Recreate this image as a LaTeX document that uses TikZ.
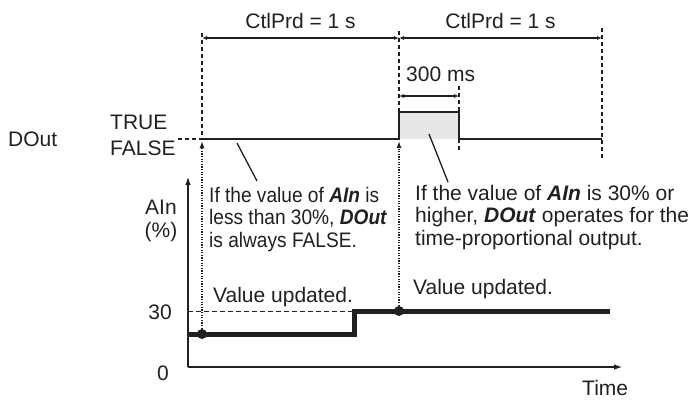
\documentclass[tikz,border=0pt]{standalone}
\usepackage{fontspec}
\setmainfont{Liberation Sans}
\newfontfamily\narrowsans[FakeStretch=0.91]{Liberation Sans}
\usetikzlibrary{arrows.meta}
\definecolor{ink}{RGB}{35,31,32}
\definecolor{pulse}{RGB}{230,231,232}

\begin{document}
\begin{tikzpicture}[x=1pt, y=-1pt,
  txt/.style={inner sep=0pt, font=\fontsize{21}{22.5}\selectfont, text=ink},
  note/.style={txt, align=left, anchor=north west},
  guide/.style={ink, line width=1.4pt, dash pattern=on 4pt off 3pt},
  sig/.style={ink, line width=1.5pt},
  dim/.style={{Latex[length=5pt,width=4pt]}-{Latex[length=5pt,width=4pt]}, ink, line width=1.4pt},
  probe/.style={-{Latex[length=7pt,width=5pt]}, ink, line width=1.3pt, dash pattern=on 1.3pt off 1.3pt},
  axis/.style={-{Latex[length=9pt,width=5.5pt]}, ink, line width=1.8pt},
  ain/.style={ink, line width=5pt},
  dot/.style={circle, fill=ink, inner sep=0pt, minimum size=10pt}]
\useasboundingbox (0,0) rectangle (693,399);

% period marks and guides
\coordinate (k0) at (202,38);
\coordinate (k1) at (399,38);
\coordinate (k2) at (602,38);
\coordinate (g0) at (202,33);
\coordinate (g1) at (399,31);
\coordinate (g2) at (602,28);
\coordinate (g2b) at (602,158);
\coordinate (g3) at (459,86);
\coordinate (g3b) at (459,152);
\coordinate (w1) at (399,96);
\coordinate (w2) at (459,96);

% DOut waveform
\coordinate (f0) at (202,139);
\coordinate (f1) at (399,139);
\coordinate (t1) at (399,112);
\coordinate (t2) at (459,112);
\coordinate (f3) at (459,139);
\coordinate (f2) at (602,139);

% AIn axes and signal
\coordinate (o) at (188,367);
\coordinate (ytop) at (188,176);
\coordinate (xend) at (623,367);
\coordinate (o30) at (188,311);
\coordinate (a0) at (188,334);
\coordinate (a1) at (354,334);
\coordinate (a2) at (354,311);
\coordinate (a3) at (610,311);

\fill[pulse] (t1) rectangle (f3);

\draw[guide] (g0) -- (f0);
\draw[guide] (g1) -- (t1);
\draw[guide] (g2) -- (g2b);
\draw[guide] (g3) -- (t2);
\draw[guide] (f3) -- (g3b);

\draw[dim] (k0) -- node[txt, above=8.5pt] {CtlPrd = 1 s} (k1);
\draw[dim] (k1) -- node[txt, above=8.5pt] {CtlPrd = 1 s} (k2);
\draw[dim] (w1) -- (w2);
\node[txt, anchor=base west] (ms) at (406,81.5) {300 ms};

\draw[sig] (f0) -- (f1) -- (t1) -- (t2) -- (f3) -- (f2);

\node[txt, anchor=base west] (dout) at (8,146.5) {DOut};
\node[txt, anchor=base west] (ltrue) at (110,129) {TRUE};
\node[txt, anchor=base west] (lfalse) at (110,155) {FALSE};
\draw[guide, line width=1.2pt] ([xshift=2pt]lfalse.east |- f0) -- (f0);

% callouts
\coordinate (c1) at (237,143);
\coordinate (c1e) at (257,181);
\coordinate (c2) at (429,134);
\coordinate (c2e) at (448,182);
\draw[ink, line width=1.3pt] (c1) -- (c1e);
\draw[ink, line width=1.3pt] (c2) -- (c2e);
\node[note, font=\fontsize{21}{22.5}\narrowsans] (low) at (209,187) {If the value of \textbf{\textit{AIn}} is\\ less than 30\%, \textbf{\textit{DOut}}\\ is always FALSE.};
\node[note] (high) at (415,185) {If the value of \textbf{\textit{AIn}} is 30\% or\\ higher, \textbf{\textit{DOut}} operates for the\\ time-proportional output.};

% AIn graph
\draw[ink, line width=1pt, dash pattern=on 5pt off 3pt] (o30) -- (a2);
\draw[ain] (a0) -- (a1) -- (a2) -- (a3);
\draw[axis] (o) -- (ytop);
\draw[axis] (o) -- (xend);
\node[dot] (u1) at (202,334) {};
\node[dot] (u2) at (399,311) {};
\coordinate (p1) at (202,141);
\coordinate (p2) at (399,141);
\draw[probe] (u1) -- (p1);
\draw[probe] (u2) -- (p2);

\node[txt, anchor=base west] (upd1) at (213,302.5) {Value updated.};
\node[txt, anchor=base west] (upd2) at (413,294.5) {Value updated.};
\node[txt, align=center, anchor=north] (ain) at (161,200) {AIn\\ (\%)};
\node[txt, anchor=base east] (l30) at (172,319.5) {30};
\node[txt, anchor=base] (l0) at (163,380.5) {0};
\node[txt, anchor=base west] (time) at (582,395.5) {Time};
\end{tikzpicture}
\end{document}
